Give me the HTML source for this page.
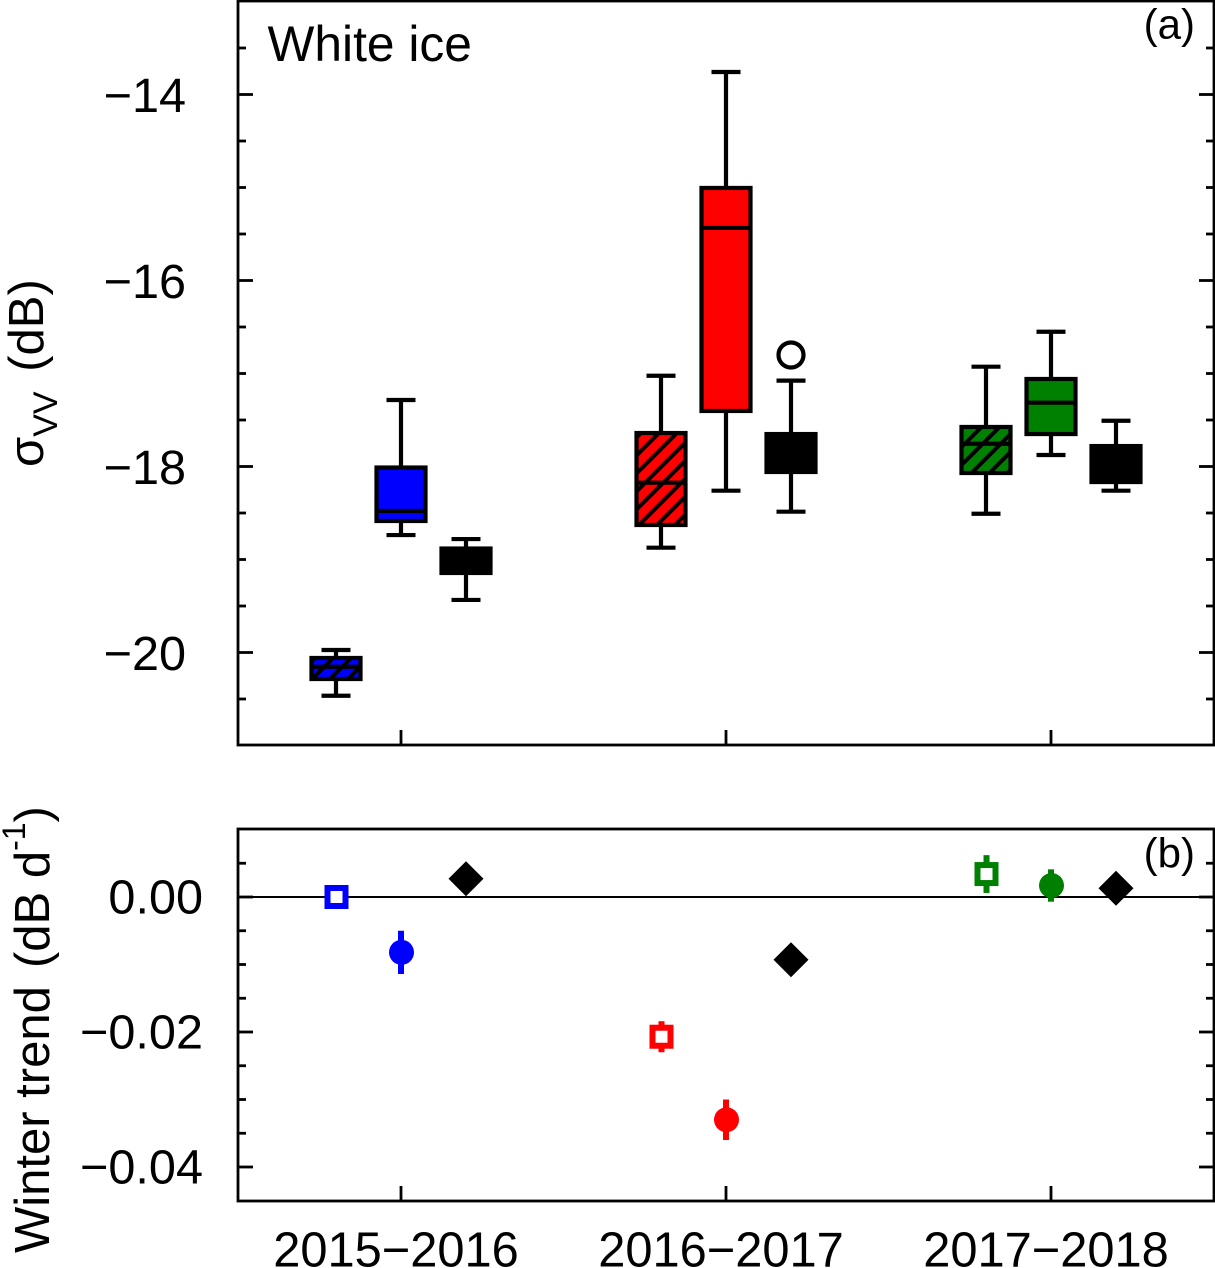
<!DOCTYPE html>
<html lang="en">
<head>
<meta charset="utf-8">
<title>White ice backscatter and winter trend</title>
<style>
html,body{margin:0;padding:0;background:#fff;}
svg{display:block;}
text{font-family:"Liberation Sans",Arial,sans-serif;fill:#000;}
</style>
</head>
<body>
<svg id="chart" xmlns="http://www.w3.org/2000/svg" width="1215" height="1268" viewBox="0 0 1215 1268">
  <defs>
    <pattern id="hatch-blue" patternUnits="userSpaceOnUse" width="18" height="18" patternTransform="translate(1 0)">
      <rect width="18" height="18" fill="#0000ff"/>
      <path d="M-4 4 L4 -4 M-4 22 L22 -4 M14 22 L22 14" stroke="#000" stroke-width="4" fill="none"/>
    </pattern>
    <pattern id="hatch-red" patternUnits="userSpaceOnUse" width="18" height="18" patternTransform="translate(12 0)">
      <rect width="18" height="18" fill="#ff0000"/>
      <path d="M-4 4 L4 -4 M-4 22 L22 -4 M14 22 L22 14" stroke="#000" stroke-width="4" fill="none"/>
    </pattern>
    <pattern id="hatch-green" patternUnits="userSpaceOnUse" width="18" height="18" patternTransform="translate(4.5 0)">
      <rect width="18" height="18" fill="#008000"/>
      <path d="M-4 4 L4 -4 M-4 22 L22 -4 M14 22 L22 14" stroke="#000" stroke-width="4" fill="none"/>
    </pattern>
  </defs>

  <g id="marks-top"></g>
  <g id="marks-bottom"></g>
  <g id="axes"></g>

  <rect x="238" y="1" width="976" height="744" fill="none" stroke="#000" stroke-width="2.8"/>
  <rect x="238" y="829" width="976" height="372" fill="none" stroke="#000" stroke-width="2.8"/>

  <text x="267.5" y="61" font-size="49.7">White ice</text>
  <text x="1195" y="38.5" font-size="42" text-anchor="end">(a)</text>
  <text x="1195" y="867.5" font-size="42" text-anchor="end">(b)</text>

  <text transform="translate(43 467) rotate(-90)" font-size="49">σ<tspan dy="14" font-size="34">VV</tspan><tspan dy="-14" dx="6"> (dB)</tspan></text>
  <text transform="translate(49 1253) rotate(-90)" font-size="49">Winter trend<tspan dx="4.5"> (dB d</tspan><tspan dy="-24" font-size="32">-1</tspan><tspan dy="24">)</tspan></text>

  <script>
    var categories = ['2015−2016', '2016−2017', '2017−2018'];
    var groupOffsets = [-0.2, 0, 0.2];

    var hatchedWhiskerHigh = [-19.973, -17.024, -16.927];
    var hatchedQ3 = [-20.059, -17.640, -17.575];
    var hatchedMedian = [-20.153, -18.174, -17.755];
    var hatchedQ1 = [-20.285, -18.629, -18.070];
    var hatchedWhiskerLow = [-20.465, -18.873, -18.508];

    var solidWhiskerHigh = [-17.285, -13.758, -16.551];
    var solidQ3 = [-18.011, -15.005, -17.059];
    var solidMedian = [-18.478, -15.435, -17.314];
    var solidQ1 = [-18.586, -17.403, -17.651];
    var solidWhiskerLow = [-18.737, -18.260, -17.876];

    var blackWhiskerHigh = [-18.780, -17.077, -17.508];
    var blackQ3 = [-18.882, -17.651, -17.780];
    var blackMedian = [-19.016, -17.855, -17.973];
    var blackQ1 = [-19.145, -18.059, -18.167];
    var blackWhiskerLow = [-19.435, -18.486, -18.260];

    var blackOutlierCategory = [1];
    var blackOutlierValue = [-16.801];

    var yearColors = ['#0000ff', '#ff0000', '#008000'];
    var hatchFills = ['url(#hatch-blue)', 'url(#hatch-red)', 'url(#hatch-green)'];

    var squareTrend = [0, -0.0207, 0.0034];
    var squareError = [0, 0.0023, 0.0028];
    var circleTrend = [-0.0082, -0.0330, 0.0017];
    var circleError = [0.0032, 0.0030, 0.0024];
    var diamondTrend = [0.0027, -0.0093, 0.0013];

    var topMajorTicks = [-14, -16, -18, -20];
    var topMajorLabels = ['−14', '−16', '−18', '−20'];
    var topMinorTicks = [-13.5, -14.5, -15, -15.5, -16.5, -17, -17.5, -18.5, -19, -19.5, -20.5];
    var bottomMajorTicks = [0, -0.02, -0.04];
    var bottomMajorLabels = ['0.00', '−0.02', '−0.04'];
    var bottomMinorTicks = [0.005, -0.005, -0.01, -0.015, -0.025, -0.03, -0.035];

    function xScale(c) { return 401 + 325 * c; }
    function yTop(v) { return 94.5 + (-14 - v) * 93; }
    function yBottom(v) { return 897 - v * 6750; }

    var NS = 'http://www.w3.org/2000/svg';
    var topGroup = document.getElementById('marks-top');
    var bottomGroup = document.getElementById('marks-bottom');
    var axesGroup = document.getElementById('axes');

    function make(tag, parent, attrs) {
      var el = document.createElementNS(NS, tag);
      for (var k in attrs) { el.setAttribute(k, attrs[k]); }
      parent.appendChild(el);
      return el;
    }

    function drawBox(cat, offset, high, q3, med, q1, low, fill, name) {
      var cx = xScale(cat + offset);
      var g = make('g', topGroup, {});
      
      
      var stroke = { stroke: '#000', 'stroke-width': 4.2, fill: 'none' };
      var whiskerUp = make('line', g, Object.assign({ x1: cx, x2: cx, y1: yTop(high), y2: yTop(q3) }, stroke));
      
      
      var whiskerDown = make('line', g, Object.assign({ x1: cx, x2: cx, y1: yTop(q1), y2: yTop(low) }, stroke));
      
      
      var capUp = make('line', g, Object.assign({ x1: cx - 14.5, x2: cx + 14.5, y1: yTop(high), y2: yTop(high) }, stroke));
      
      
      var capDown = make('line', g, Object.assign({ x1: cx - 14.5, x2: cx + 14.5, y1: yTop(low), y2: yTop(low) }, stroke));
      
      
      var body = make('rect', g, { x: cx - 24.5, y: yTop(q3), width: 49, height: yTop(q1) - yTop(q3), fill: fill, stroke: '#000', 'stroke-width': 4.2 });
      
      
      var median = make('line', g, Object.assign({ x1: cx - 24.5, x2: cx + 24.5, y1: yTop(med), y2: yTop(med) }, stroke));
      
      
    }

    categories.forEach(function (label, i) {
      drawBox(i, groupOffsets[0], hatchedWhiskerHigh[i], hatchedQ3[i], hatchedMedian[i], hatchedQ1[i], hatchedWhiskerLow[i], hatchFills[i], 'hatched-box-' + label);
      drawBox(i, groupOffsets[1], solidWhiskerHigh[i], solidQ3[i], solidMedian[i], solidQ1[i], solidWhiskerLow[i], yearColors[i], 'solid-box-' + label);
      drawBox(i, groupOffsets[2], blackWhiskerHigh[i], blackQ3[i], blackMedian[i], blackQ1[i], blackWhiskerLow[i], '#000', 'black-box-' + label);
    });

    blackOutlierValue.forEach(function (v, i) {
      var o = make('circle', topGroup, { cx: xScale(blackOutlierCategory[i] + groupOffsets[2]), cy: yTop(v), r: 12.5, fill: '#fff', stroke: '#000', 'stroke-width': 4.2 });
      
      
    });

    var zero = make('line', bottomGroup, { x1: 238, x2: 1214, y1: yBottom(0), y2: yBottom(0), stroke: '#000', 'stroke-width': 2 });
    
    

    function drawError(cx, value, err, color) {
      if (!err) { return; }
      var e = make('line', bottomGroup, { x1: cx, x2: cx, y1: yBottom(value + err), y2: yBottom(value - err), stroke: color, 'stroke-width': 6 });
      
      
    }

    categories.forEach(function (label, i) {
      var color = yearColors[i];
      var sx = xScale(i + groupOffsets[0]) + 0.5;
      drawError(sx, squareTrend[i], squareError[i], color);
      var s = make('rect', bottomGroup, { x: sx - 9, y: yBottom(squareTrend[i]) - 9, width: 18, height: 18, fill: '#fff', stroke: color, 'stroke-width': 6 });
      
      

      var cx = xScale(i + groupOffsets[1]);
      drawError(cx, circleTrend[i], circleError[i], color);
      var c = make('circle', bottomGroup, { cx: cx + 0.5, cy: yBottom(circleTrend[i]), r: 12.5, fill: color });
      
      

      var dx = xScale(i + groupOffsets[2]);
      var dy = yBottom(diamondTrend[i]);
      var d = make('polygon', bottomGroup, { points: [dx, dy - 17.5, dx + 17.5, dy, dx, dy + 17.5, dx - 17.5, dy].join(' '), fill: '#000' });
      
      
    });

    function drawYTick(y, len) {
      var tl = make('line', axesGroup, { x1: 238, x2: 238 + len, y1: y, y2: y, stroke: '#000', 'stroke-width': 2.8 });
      
      
      var tr = make('line', axesGroup, { x1: 1214 - len, x2: 1214, y1: y, y2: y, stroke: '#000', 'stroke-width': 2.8 });
      
      
    }

    topMajorTicks.forEach(function (v, i) {
      drawYTick(yTop(v), 15);
      var t = make('text', axesGroup, { x: 186, y: yTop(v) + 17.5, 'font-size': 48.6, 'text-anchor': 'end' });
      t.textContent = topMajorLabels[i];
      
      
    });
    topMinorTicks.forEach(function (v) { drawYTick(yTop(v), 8); });

    bottomMajorTicks.forEach(function (v, i) {
      drawYTick(yBottom(v), 15);
      var t = make('text', axesGroup, { x: 203, y: yBottom(v) + 16.5, 'font-size': 48.6, 'text-anchor': 'end' });
      t.textContent = bottomMajorLabels[i];
      
      
    });
    bottomMinorTicks.forEach(function (v) { drawYTick(yBottom(v), 8); });

    categories.forEach(function (label, i) {
      var x = xScale(i);
      var a = make('line', axesGroup, { x1: x, x2: x, y1: 730, y2: 745, stroke: '#000', 'stroke-width': 2.8 });
      
      
      var b = make('line', axesGroup, { x1: x, x2: x, y1: 1186, y2: 1201, stroke: '#000', 'stroke-width': 2.8 });
      
      
      var t = make('text', axesGroup, { x: x - 5, y: 1266.5, 'font-size': 48.8, 'text-anchor': 'middle' });
      t.textContent = label;
      
      
    });
  </script>
</svg>
</body>
</html>
